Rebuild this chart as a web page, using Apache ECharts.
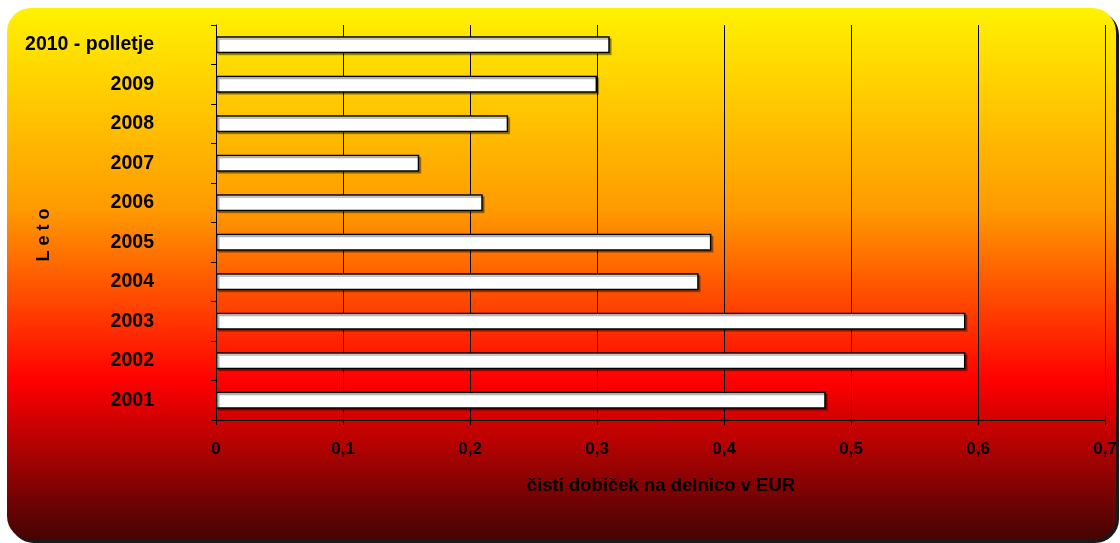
<!DOCTYPE html>
<html>
<head>
<meta charset="utf-8">
<script src="https://cdn.jsdelivr.net/npm/echarts@6/dist/echarts.min.js"></script>
<style>
html,body{margin:0;padding:0;background:#fff;}
#c{width:1120px;height:543px;}
</style>
</head>
<body>
<div id="c"></div>
<script>
const categories = ['2001','2002','2003','2004','2005','2006','2007','2008','2009','2010 - polletje'];
const values = [0.48, 0.59, 0.59, 0.38, 0.39, 0.21, 0.16, 0.23, 0.30, 0.31];
const xTicks = [0, 0.1, 0.2, 0.3, 0.4, 0.5, 0.6, 0.7];
const xTitle = 'čisti dobiček na delnico v EUR';
const yTitle = 'L e t o';

const chart = echarts.init(document.getElementById('c'), null, {renderer:'canvas'});
const font = '"Liberation Sans", Arial, sans-serif';
chart.setOption({
  animation: false,
  backgroundColor: '#ffffff',
  graphic: [
    {
      type: 'rect', z: -10, silent: true,
      shape: {x: 7, y: 8, width: 1109, height: 532, r: 24},
      style: {
        fill: new echarts.graphic.LinearGradient(0, 0, 0, 1, [
          {offset: 0, color: '#fff200'},
          {offset: 0.38, color: '#ff9a00'},
          {offset: 0.7, color: '#ff0000'},
          {offset: 1, color: '#440404'}
        ]),
        shadowColor: 'rgba(0,0,0,0.9)', shadowOffsetX: 3, shadowOffsetY: 3, shadowBlur: 0
      }
    },
    {
      type: 'text', x: 661, y: 486, silent: true,
      style: {text: xTitle, font: 'bold 18.5px ' + font, fill: '#000', textAlign: 'center', textVerticalAlign: 'middle'}
    },
    {
      type: 'text', x: 44, y: 235, rotation: Math.PI/2, silent: true,
      style: {text: yTitle, font: 'bold 18px ' + font, fill: '#000', textAlign: 'center', textVerticalAlign: 'middle'}
    }
  ],
  grid: {left: 216, right: 14, top: 25, bottom: 123, containLabel: false},
  xAxis: {
    type: 'value', min: 0, max: 0.7, interval: 0.1,
    axisLine: {show: true, lineStyle: {color: '#000', width: 1}},
    axisTick: {show: true, length: 5, lineStyle: {color: '#000'}},
    axisLabel: {
      margin: 21, color: '#000', fontWeight: 'bold', fontSize: 17, fontFamily: font,
      formatter: v => String(Math.round(v*10)/10).replace('.', ',')
    },
    splitLine: {show: true, lineStyle: {color: '#000', width: 1}}
  },
  yAxis: {
    type: 'category', data: categories,
    axisLine: {show: true, lineStyle: {color: '#000', width: 1}},
    axisTick: {show: true, length: 5, lineStyle: {color: '#000'}},
    axisLabel: {margin: 62, color: '#000', fontWeight: 'bold', fontSize: 19.5, fontFamily: font}
  },
  series: [{
    type: 'bar', data: values, barWidth: 17,
    itemStyle: {
      color: '#ffffff', borderColor: '#000', borderWidth: 1.5,
      shadowColor: 'rgba(0,0,0,0.3)', shadowOffsetX: 2, shadowOffsetY: 2, shadowBlur: 0
    }
  }]
});
</script>
</body>
</html>
